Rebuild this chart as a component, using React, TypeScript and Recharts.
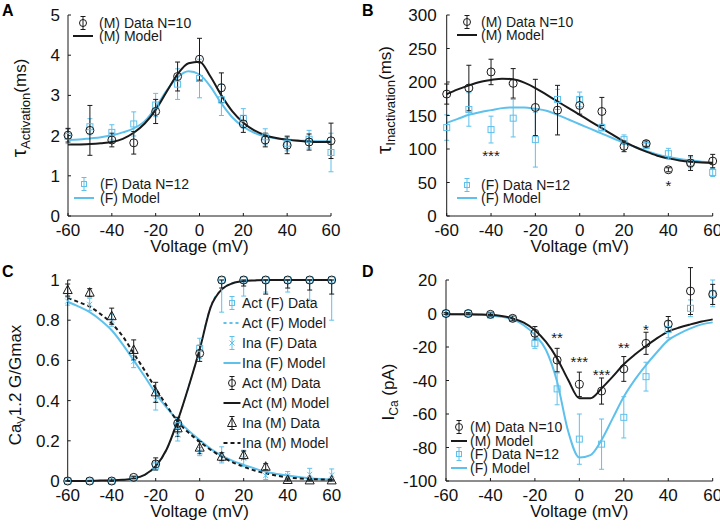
import React from 'react';
import { ComposedChart, Line, Scatter, XAxis, YAxis, ErrorBar, ReferenceLine } from 'recharts';

const FONT = '"Liberation Sans", Arial, Helvetica, sans-serif';
const BLUE = '#5EC1EC';
const INK = '#1a1a1a';
const TICK_FILL = '#111';

// ---------- shared x values ----------
const VOLTAGES = [-60, -50, -40, -30, -20, -10, 0, 10, 20, 30, 40, 50, 60];
const MODEL_VOLTAGES = [-60, -55, -50, -45, -40, -35, -30, -25, -20, -15, -10, -5, 0, 5, 10, 15, 20, 25, 30, 35, 40, 45, 50, 55, 60];
const X_TICKS = [-60, -40, -20, 0, 20, 40, 60];

// ---------- Panel A: tau activation (ms) ----------
const A_TICKS = [0, 1, 2, 3, 4, 5];
const tauActMMean = [2.01, 2.13, 1.89, 1.82, 2.6, 3.47, 3.9, 3.19, 2.29, 1.89, 1.76, 1.84, 1.87];
const tauActMErr = [0.17, 0.62, 0.17, 0.28, 0.3, 0.36, 0.52, 0.37, 0.21, 0.17, 0.21, 0.2, 0.44];
const tauActFMean = [1.98, 2.22, 2.08, 2.29, 2.76, 3.28, 3.42, 2.89, 2.43, 1.97, 1.81, 1.91, 1.58];
const tauActFErr = [0.18, 0.2, 0.19, 0.3, 0.29, 0.38, 0.48, 0.39, 0.24, 0.2, 0.19, 0.22, 0.48];
const tauActMModel = [1.78, 1.78, 1.79, 1.81, 1.84, 1.92, 2.07, 2.3, 2.64, 3.09, 3.53, 3.8, 3.84, 3.47, 3.0, 2.6, 2.32, 2.13, 2.01, 1.94, 1.9, 1.87, 1.85, 1.84, 1.84];
const tauActFModel = [1.89, 1.9, 1.93, 1.96, 2.01, 2.08, 2.18, 2.36, 2.7, 3.12, 3.45, 3.6, 3.52, 3.22, 2.8, 2.45, 2.22, 2.07, 1.98, 1.93, 1.9, 1.88, 1.87, 1.86, 1.86];

// ---------- Panel B: tau inactivation (ms) ----------
const B_TICKS = [0, 50, 100, 150, 200, 250, 300];
const tauInaMMean = [182, 191, 215, 198, 162, 158, 165, 156, 104, 108, 69, 79, 82];
const tauInaMErr = [15, 34, 19, 22, 42, 37, 13, 21, 8, 4, 3, 11, 10];
const tauInaFMean = [132, 159, 129, 146, 114, 174, 174, 132, 114, 105, 93, 80, 65];
const tauInaFErr = [19, 25, 20, 28, 41, 15, 11, 5, 7, 4, 8, 8, 6];
const tauInaMModel = [182, 189, 195, 200, 203, 205, 204, 199, 191, 181, 171, 161, 151, 141, 131, 121, 111, 103, 96, 90, 86, 83, 81, 80, 79];
const tauInaFModel = [139, 145, 151, 155, 158, 161, 162, 162, 160, 157, 151, 144, 137, 130, 123, 116, 109, 103, 97, 92, 88, 85, 83, 81, 80];
const bStarV = [-40, 40];
const bStarY = [93.6, 49];
const bStarText = ['***', '*'];

// ---------- Panel C: CaV1.2 G/Gmax ----------
const C_TICKS = [0, 0.2, 0.4, 0.6, 0.8, 1];
const actMMean = [0, 0, 0, 0.018, 0.085, 0.287, 0.635, 1, 1, 1, 1, 1, 1];
const actMErrLow = [0, 0, 0, 0.005, 0.03, 0.03, 0.04, 0.04, 0.03, 0.07, 0.04, 0.05, 0.07];
const actMErrHigh = [0, 0, 0, 0.005, 0.03, 0.03, 0.04, 0, 0, 0, 0, 0, 0];
const actFMean = [0, 0, 0, 0.012, 0.075, 0.275, 0.66, 1, 1, 1, 1, 1, 1];
const actFErrLow = [0, 0, 0, 0.005, 0.02, 0.03, 0.05, 0.16, 0.08, 0.06, 0.06, 0.1, 0.2];
const actFErrHigh = [0, 0, 0, 0.005, 0.02, 0.03, 0.05, 0, 0, 0, 0, 0, 0];
const inaMMean = [0.95, 0.937, 0.82, 0.652, 0.441, 0.262, 0.166, 0.121, 0.129, 0.071, 0.005, 0.003, 0.003];
const inaMErr = [0.03, 0.02, 0.04, 0.05, 0.05, 0.04, 0.03, 0.02, 0.02, 0.015, 0.005, 0.003, 0.003];
const inaFMean = [0.895, 0.879, 0.8, 0.594, 0.403, 0.229, 0.146, 0.13, 0.113, 0.027, 0.027, 0.033, 0.03];
const inaFErr = [0.02, 0.03, 0.03, 0.03, 0.05, 0.03, 0.02, 0.04, 0.04, 0.02, 0.02, 0.03, 0.03];
const actFModel = [0, 0, 0.001, 0.002, 0.003, 0.006, 0.013, 0.03, 0.072, 0.155, 0.3, 0.47, 0.66, 0.87, 0.955, 0.985, 0.995, 0.998, 1, 1, 1, 1, 1, 1, 1];
const actMModel = [0, 0, 0.001, 0.002, 0.003, 0.006, 0.013, 0.031, 0.074, 0.158, 0.3, 0.47, 0.655, 0.865, 0.953, 0.984, 0.995, 0.998, 1, 1, 1, 1, 1, 1, 1];
const inaFModel = [0.892, 0.868, 0.84, 0.8, 0.75, 0.68, 0.6, 0.52, 0.436, 0.365, 0.303, 0.25, 0.204, 0.16, 0.126, 0.1, 0.08, 0.062, 0.046, 0.035, 0.027, 0.02, 0.014, 0.01, 0.008];
const inaMModel = [0.91, 0.89, 0.867, 0.83, 0.784, 0.72, 0.635, 0.55, 0.46, 0.375, 0.295, 0.24, 0.196, 0.155, 0.121, 0.093, 0.071, 0.052, 0.038, 0.027, 0.018, 0.013, 0.01, 0.008, 0.006];

// ---------- Panel D: I_Ca (pA) ----------
const D_TICKS = [-100, -80, -60, -40, -20, 0, 20];
const icaMMean = [0, 0, -0.5, -2.9, -11.8, -27.8, -42.3, -46.3, -33.1, -17.8, -6.3, 13.4, 11.4];
const icaMErr = [0.5, 0.5, 1, 1.5, 4, 7, 7.3, 7.8, 7.4, 6.6, 4.5, 14, 6];
const icaFMean = [0, 0, -0.9, -3, -17.8, -45, -75, -78, -62, -37.7, -9.5, 3.1, 12];
const icaFErr = [0.5, 0.5, 1, 1.5, 3, 9.5, 15, 15, 12.3, 8.6, 5, 5, 8];
const icaMModel = [-0.5, -0.5, -0.5, -0.6, -0.8, -1.5, -2.9, -5.5, -10, -17, -26.8, -39.7, -50.6, -50.6, -44.7, -37.7, -30.3, -24.5, -19.4, -14.7, -10.8, -8.4, -6.5, -4.8, -3.5];
const icaFModel = [-0.5, -0.5, -0.6, -0.8, -1.2, -2, -3.5, -7, -12.8, -21.8, -40.7, -70.5, -86, -84.5, -75.5, -62.6, -49.7, -39.5, -30.8, -23, -15.9, -12, -8.9, -6.5, -5.3];
const dStarV = [-10, 0, 10, 20, 30];
const dStarY = [-12.8, -27.2, -35.1, -18.8, -7.9];
const dStarText = ['**', '***', '***', '**', '*'];

// ---------- helpers ----------
const pts = (ys: number[], errs: any[]) => VOLTAGES.map((v, i) => ({ v, y: ys[i], e: errs[i] }));
const pts2 = (ys: number[], lo: number[], hi: number[]) => VOLTAGES.map((v, i) => ({ v, y: ys[i], e: [lo[i], hi[i]] }));
const curve = (ys: number[]) => MODEL_VOLTAGES.map((v, i) => ({ v, y: ys[i] }));
const stars = (xs: number[], ys: number[], ts: string[]) => xs.map((v, i) => ({ v, y: ys[i], t: ts[i] }));

const CircleMark = (p: any) => <circle cx={p.cx} cy={p.cy} r={4} fill="none" stroke={INK} strokeWidth={1} />;
const SquareMark = (p: any) => <rect x={p.cx - 3} y={p.cy - 3} width={6} height={6} fill="none" stroke={BLUE} strokeWidth={1} />;
const TriMark = (p: any) => (
  <polygon points={`${p.cx},${p.cy - 5} ${p.cx - 4.5},${p.cy + 3.5} ${p.cx + 4.5},${p.cy + 3.5}`} fill="none" stroke={INK} strokeWidth={1} />
);
const CrossMark = (p: any) => (
  <path d={`M${p.cx - 2.5},${p.cy - 2.5}L${p.cx + 2.5},${p.cy + 2.5}M${p.cx - 2.5},${p.cy + 2.5}L${p.cx + 2.5},${p.cy - 2.5}`} stroke={BLUE} strokeWidth={1} />
);
const StarMark = (p: any) => (
  <text x={p.cx} y={p.cy + 8} textAnchor="middle" fontSize={15} fontFamily={FONT} fill={INK}>{p.payload?.t}</text>
);

const tickStyle = { fill: TICK_FILL, fontSize: 17, fontFamily: FONT };

const xAxisEl = (
  <XAxis
    dataKey="v"
    type="number"
    domain={[-60, 60]}
    ticks={X_TICKS}
    interval={0}
    height={48}
    tickSize={-3}
    tickMargin={11}
    stroke={INK}
    tick={tickStyle}
    label={{ value: 'Voltage (mV)', position: 'insideBottom', offset: 12, fill: TICK_FILL, fontSize: 17, fontFamily: FONT }}
  />
);

const RotLabel = ({ x, y, children }: any) => (
  <text x={x} y={y} transform={`rotate(-90 ${x} ${y})`} textAnchor="middle" fontFamily={FONT} fill={TICK_FILL}>
    {children}
  </text>
);

const labelA = (
  <RotLabel x={26} y={108}>
    <tspan fontSize={21}>τ</tspan>
    <tspan fontSize={13} dy={4}>Activation</tspan>
    <tspan fontSize={17} dy={-4}>(ms)</tspan>
  </RotLabel>
);
const labelB = (
  <RotLabel x={31} y={100}>
    <tspan fontSize={21}>τ</tspan>
    <tspan fontSize={13} dy={4}>Inactivation</tspan>
    <tspan fontSize={17} dy={-4}>(ms)</tspan>
  </RotLabel>
);
const labelC = (
  <RotLabel x={21} y={120}>
    <tspan fontSize={17}>Ca</tspan>
    <tspan fontSize={11} dy={4}>V</tspan>
    <tspan fontSize={17} dy={-4}>1.2 G/Gmax</tspan>
  </RotLabel>
);
const labelD = (
  <RotLabel x={34} y={127}>
    <tspan fontSize={17}>I</tspan>
    <tspan fontSize={12} dy={4}>Ca</tspan>
    <tspan fontSize={17} dy={-4}> (pA)</tspan>
  </RotLabel>
);

// ---------- legends (HTML overlay) ----------
type Row = { label: string; icon: string; color: string; dash?: string };

const LegendIcon = ({ icon, color, dash, len }: any) => {
  const c = 12;
  if (icon === 'line') {
    return (
      <svg width={24} height={16}>
        <line x1={c - len / 2} y1={8} x2={c + len / 2} y2={8} stroke={color} strokeWidth={2} strokeDasharray={dash} />
      </svg>
    );
  }
  const p = { cx: c, cy: 8 };
  return (
    <svg width={24} height={16}>
      <line x1={c} y1={1.5} x2={c} y2={14.5} stroke={color} strokeWidth={1} />
      <line x1={c - 2.5} y1={1.5} x2={c + 2.5} y2={1.5} stroke={color} strokeWidth={1} />
      <line x1={c - 2.5} y1={14.5} x2={c + 2.5} y2={14.5} stroke={color} strokeWidth={1} />
      {icon === 'circle' && <circle cx={c} cy={8} r={3.5} fill="none" stroke={color} strokeWidth={1} />}
      {icon === 'square' && <rect x={c - 2.5} y={5.5} width={5} height={5} fill="none" stroke={color} strokeWidth={1} />}
      {icon === 'tri' && TriMark(p)}
      {icon === 'x' && CrossMark(p)}
    </svg>
  );
};

const LegendBlock = ({ rows, ys, iconX, textX, len }: { rows: Row[]; ys: number[]; iconX: number; textX: number; len: number }) => (
  <>
    {rows.map((r, i) => (
      <React.Fragment key={r.label}>
        <div style={{ position: 'absolute', left: iconX - 12, top: ys[i] - 8, width: 24, height: 16 }}>
          <LegendIcon icon={r.icon} color={r.color} dash={r.dash} len={len} />
        </div>
        <div
          style={{
            position: 'absolute',
            left: textX,
            top: ys[i] - 6,
            height: 12,
            lineHeight: '12px',
            fontSize: 14,
            fontFamily: FONT,
            color: INK,
            whiteSpace: 'nowrap',
          }}
        >
          {r.label}
        </div>
      </React.Fragment>
    ))}
  </>
);

const mRows: Row[] = [
  { label: '(M) Data N=10', icon: 'circle', color: INK },
  { label: '(M) Model', icon: 'line', color: INK },
];
const fRows: Row[] = [
  { label: '(F) Data N=12', icon: 'square', color: BLUE },
  { label: '(F) Model', icon: 'line', color: BLUE },
];
const cRows: Row[] = [
  { label: 'Act (F) Data', icon: 'square', color: BLUE },
  { label: 'Act (F) Model', icon: 'line', color: BLUE, dash: '3 3' },
  { label: 'Ina (F) Data', icon: 'x', color: BLUE },
  { label: 'Ina (F) Model', icon: 'line', color: BLUE },
  { label: 'Act (M) Data', icon: 'circle', color: INK },
  { label: 'Act (M) Model', icon: 'line', color: INK },
  { label: 'Ina (M) Data', icon: 'tri', color: INK },
  { label: 'Ina (M) Model', icon: 'line', color: INK, dash: '4 3' },
];

const PanelLetter = ({ text, x, y }: any) => (
  <div style={{ position: 'absolute', left: x, top: y, fontSize: 16, lineHeight: '16px', fontWeight: 'bold', fontFamily: FONT, color: '#000' }}>
    {text}
  </div>
);

const errBar = (color: string) => <ErrorBar dataKey="e" direction="y" width={2.5} stroke={color} strokeWidth={1} />;

export default function App() {
  return (
    <div style={{ position: 'absolute', left: 0, top: 0, width: 720, height: 529, background: '#fff', overflow: 'hidden' }}>
      {/* Panel A */}
      <div style={{ position: 'absolute', left: 0, top: 0 }}>
        <ComposedChart width={360} height={264} margin={{ top: 15, right: 29, bottom: 0, left: 0 }}>
          {xAxisEl}
          <YAxis type="number" domain={[0, 5]} ticks={A_TICKS} interval={0} width={68} tickSize={-3} tickMargin={11} stroke={INK} tick={tickStyle} label={{ content: () => labelA }} />
          <Line data={curve(tauActFModel)} dataKey="y" type="monotone" stroke={BLUE} strokeWidth={2} dot={false} isAnimationActive={false} />
          <Line data={curve(tauActMModel)} dataKey="y" type="monotone" stroke={INK} strokeWidth={2} dot={false} isAnimationActive={false} />
          <Scatter data={pts(tauActFMean, tauActFErr)} dataKey="y" shape={SquareMark} isAnimationActive={false}>
            {errBar(BLUE)}
          </Scatter>
          <Scatter data={pts(tauActMMean, tauActMErr)} dataKey="y" shape={CircleMark} isAnimationActive={false}>
            {errBar(INK)}
          </Scatter>
        </ComposedChart>
      </div>

      {/* Panel B */}
      <div style={{ position: 'absolute', left: 360, top: 0 }}>
        <ComposedChart width={360} height={264} margin={{ top: 15, right: 7.3, bottom: 0, left: 0 }}>
          {xAxisEl}
          <YAxis type="number" domain={[0, 300]} ticks={B_TICKS} interval={0} width={86.7} tickSize={-3} tickMargin={13} stroke={INK} tick={tickStyle} label={{ content: () => labelB }} />
          <Line data={curve(tauInaFModel)} dataKey="y" type="monotone" stroke={BLUE} strokeWidth={2} dot={false} isAnimationActive={false} />
          <Line data={curve(tauInaMModel)} dataKey="y" type="monotone" stroke={INK} strokeWidth={2} dot={false} isAnimationActive={false} />
          <Scatter data={pts(tauInaFMean, tauInaFErr)} dataKey="y" shape={SquareMark} isAnimationActive={false}>
            {errBar(BLUE)}
          </Scatter>
          <Scatter data={pts(tauInaMMean, tauInaMErr)} dataKey="y" shape={CircleMark} isAnimationActive={false}>
            {errBar(INK)}
          </Scatter>
          <Scatter data={stars(bStarV, bStarY, bStarText)} dataKey="y" shape={StarMark} isAnimationActive={false} />
        </ComposedChart>
      </div>

      {/* Panel C */}
      <div style={{ position: 'absolute', left: 0, top: 265 }}>
        <ComposedChart width={360} height={264} margin={{ top: 15, right: 28.3, bottom: 0, left: 0 }}>
          {xAxisEl}
          <YAxis type="number" domain={[0, 1]} ticks={C_TICKS} interval={0} width={67.7} tickSize={-3} tickMargin={11} stroke={INK} tick={tickStyle} label={{ content: () => labelC }} />
          <Line data={curve(actFModel)} dataKey="y" type="monotone" stroke={BLUE} strokeWidth={1.5} strokeDasharray="3 3" dot={false} isAnimationActive={false} />
          <Line data={curve(inaFModel)} dataKey="y" type="monotone" stroke={BLUE} strokeWidth={2} dot={false} isAnimationActive={false} />
          <Line data={curve(actMModel)} dataKey="y" type="monotone" stroke={INK} strokeWidth={2} dot={false} isAnimationActive={false} />
          <Line data={curve(inaMModel)} dataKey="y" type="monotone" stroke={INK} strokeWidth={2} strokeDasharray="4 3" dot={false} isAnimationActive={false} />
          <Scatter data={pts2(actFMean, actFErrLow, actFErrHigh)} dataKey="y" shape={SquareMark} isAnimationActive={false}>
            {errBar(BLUE)}
          </Scatter>
          <Scatter data={pts(inaFMean, inaFErr)} dataKey="y" shape={CrossMark} isAnimationActive={false}>
            {errBar(BLUE)}
          </Scatter>
          <Scatter data={pts2(actMMean, actMErrLow, actMErrHigh)} dataKey="y" shape={CircleMark} isAnimationActive={false}>
            {errBar(INK)}
          </Scatter>
          <Scatter data={pts(inaMMean, inaMErr)} dataKey="y" shape={TriMark} isAnimationActive={false}>
            {errBar(INK)}
          </Scatter>
        </ComposedChart>
      </div>

      {/* Panel D */}
      <div style={{ position: 'absolute', left: 360, top: 265 }}>
        <ComposedChart width={360} height={264} margin={{ top: 1.6, right: 7.3, bottom: 0, left: 0 }}>
          {xAxisEl}
          <YAxis type="number" domain={[-100, 28]} ticks={D_TICKS} interval={0} width={86} tickSize={-3} tickMargin={12} stroke={INK} axisLine={false} tick={tickStyle} label={{ content: () => labelD }} />
          <ReferenceLine segment={[{ x: -60, y: -100 }, { x: -60, y: 20 }]} stroke={INK} strokeWidth={1} ifOverflow="visible" />
          <Line data={curve(icaFModel)} dataKey="y" type="monotone" stroke={BLUE} strokeWidth={2} dot={false} isAnimationActive={false} />
          <Line data={curve(icaMModel)} dataKey="y" type="monotone" stroke={INK} strokeWidth={2} dot={false} isAnimationActive={false} />
          <Scatter data={pts(icaFMean, icaFErr)} dataKey="y" shape={SquareMark} isAnimationActive={false}>
            {errBar(BLUE)}
          </Scatter>
          <Scatter data={pts(icaMMean, icaMErr)} dataKey="y" shape={CircleMark} isAnimationActive={false}>
            {errBar(INK)}
          </Scatter>
          <Scatter data={stars(dStarV, dStarY, dStarText)} dataKey="y" shape={StarMark} isAnimationActive={false} />
        </ComposedChart>
      </div>

      {/* Legends */}
      <LegendBlock rows={mRows} ys={[23, 36]} iconX={83} textX={99} len={20} />
      <LegendBlock rows={fRows} ys={[184, 198]} iconX={84} textX={100} len={20} />
      <LegendBlock rows={mRows} ys={[22, 35]} iconX={467} textX={481} len={20} />
      <LegendBlock rows={fRows} ys={[185, 198]} iconX={467} textX={481} len={20} />
      <LegendBlock rows={cRows} ys={[303, 323, 343, 363, 383, 403, 423, 443]} iconX={232} textX={242} len={17} />
      <LegendBlock rows={[mRows[0], mRows[1], fRows[0], fRows[1]]} ys={[427, 441, 454, 468]} iconX={459} textX={470} len={16} />

      <PanelLetter text="A" x={2} y={3} />
      <PanelLetter text="B" x={362} y={3} />
      <PanelLetter text="C" x={2} y={264} />
      <PanelLetter text="D" x={362} y={264} />
    </div>
  );
}
